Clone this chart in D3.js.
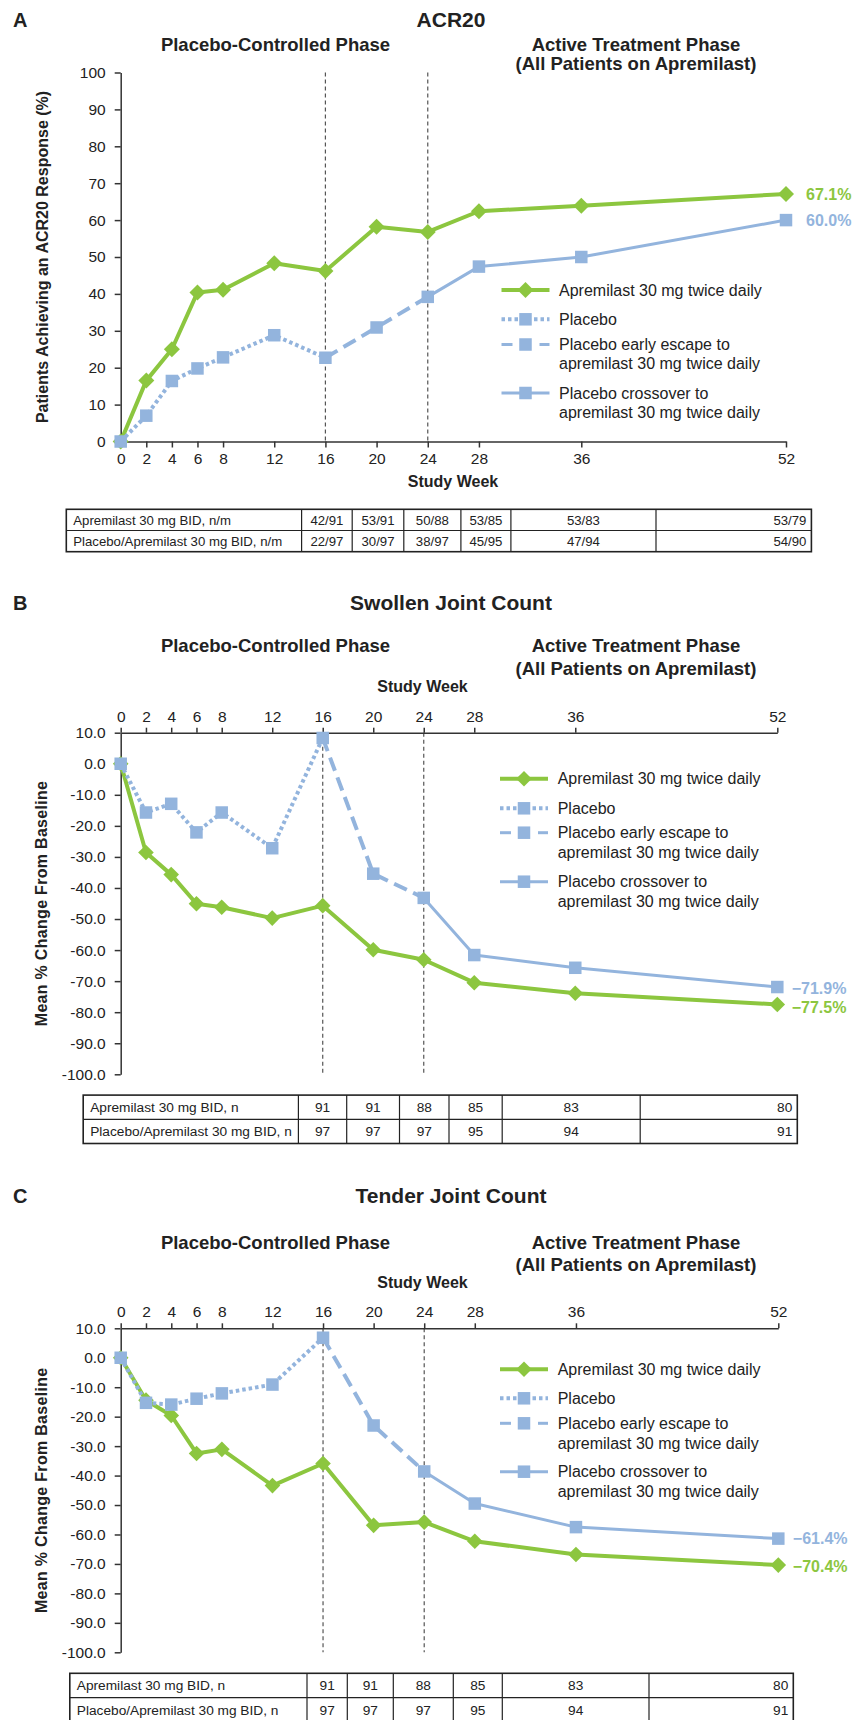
<!DOCTYPE html>
<html><head><meta charset="utf-8">
<script src="https://cdn.jsdelivr.net/npm/d3@7"></script>
<style>
body{margin:0;background:#fff}
svg{display:block}
text{font-family:"Liberation Sans",Arial,Helvetica,sans-serif;fill:#222}
</style>
</head><body>
<svg id="chart" width="852" height="1720"></svg>
<script>
// ---------------- DATA ----------------
const weeks = [0, 2, 4, 6, 8, 12, 16, 20, 24, 28, 36, 52];
const placeboWeeks = [0, 2, 4, 6, 8, 12, 16];
const escapeWeeks = [16, 20, 24];
const crossoverWeeks = [24, 28, 36, 52];
const tableWeeks = [16, 20, 24, 28, 36, 52];

// A: ACR20 (% of patients)
const acrApremilast = [0, 16.5, 25.0, 40.4, 41.1, 48.3, 46.2, 58.2, 56.8, 62.4, 63.9, 67.1];
const acrPlacebo = [0, 7.0, 16.4, 19.8, 22.8, 28.8, 22.7];
const acrEscape = [22.7, 30.9, 39.2];
const acrCrossover = [39.2, 47.4, 50.0, 60.0];
const acrTableApremilast = ["42/91", "53/91", "50/88", "53/85", "53/83", "53/79"];
const acrTablePlacebo = ["22/97", "30/97", "38/97", "45/95", "47/94", "54/90"];
const acrTableLabels = ["Apremilast 30 mg BID, n/m", "Placebo/Apremilast 30 mg BID, n/m"];
const acrTicks = [0, 10, 20, 30, 40, 50, 60, 70, 80, 90, 100];
const acrEndLabels = ["67.1%", "60.0%"];

// B: Swollen joint count (mean % change)
const sjcApremilast = [0, -28.6, -35.7, -45.1, -46.2, -49.7, -45.7, -59.9, -63.1, -70.5, -73.9, -77.5];
const sjcPlacebo = [0, -15.7, -12.9, -22.1, -15.7, -27.2, 8.3];
const sjcEscape = [8.3, -35.4, -43.2];
const sjcCrossover = [-43.2, -61.6, -65.7, -71.9];
const sjcTableApremilast = ["91", "91", "88", "85", "83", "80"];
const sjcTablePlacebo = ["97", "97", "97", "95", "94", "91"];
const sjcEndLabels = ["\u221277.5%", "\u221271.9%"];

// C: Tender joint count (mean % change)
const tjcApremilast = [0, -14.4, -19.6, -32.5, -31.1, -43.4, -35.9, -56.9, -55.8, -62.3, -66.8, -70.4];
const tjcPlacebo = [0, -15.3, -15.9, -13.9, -12.1, -9.1, 6.8];
const tjcEscape = [6.8, -23.0, -38.6];
const tjcCrossover = [-38.6, -49.5, -57.5, -61.4];
const tjcTableApremilast = ["91", "91", "88", "85", "83", "80"];
const tjcTablePlacebo = ["97", "97", "97", "95", "94", "91"];
const tjcEndLabels = ["\u221270.4%", "\u221261.4%"];

const jointTableLabels = ["Apremilast 30 mg BID, n", "Placebo/Apremilast 30 mg BID, n"];
const jointTicks = [10, 0, -10, -20, -30, -40, -50, -60, -70, -80, -90, -100];

const legendLabels = [
  ["Apremilast 30 mg twice daily"],
  ["Placebo"],
  ["Placebo early escape to", "apremilast 30 mg twice daily"],
  ["Placebo crossover to", "apremilast 30 mg twice daily"]
];
const phaseLabels = ["Placebo-Controlled Phase", "Active Treatment Phase", "(All Patients on Apremilast)"];

// ---------------- STYLE ----------------
const GREEN = "#8CC63F";
const BLUE = "#93B4DD";
const AXIS = "#333";
const FONT = '"Liberation Sans",Arial,Helvetica,sans-serif';

const svg = d3.select("#chart");
svg.append("rect").attr("width", 852).attr("height", 1720).attr("fill", "#fff");

function diamondPath(r) { return `M0,${-r}L${r},0L0,${r}L${-r},0Z`; }

function drawPanel(p) {
  const g = svg.append("g");
  const x = d3.scaleLinear().domain([0, 52]).range([p.x0, p.x52]);
  const y = d3.scaleLinear().domain(p.yDomain).range([p.yBottom, p.yTop]);

  // Letter + title
  g.append("text").attr("x", p.letterX).attr("y", p.titleY).attr("dy", "0.35em")
    .attr("font-size", 20).attr("font-weight", "bold").text(p.letter);
  g.append("text").attr("x", 451).attr("y", p.titleY).attr("dy", "0.35em")
    .attr("text-anchor", "middle").attr("font-size", 21).attr("font-weight", "bold").text(p.title);

  // Phase headers
  g.append("text").attr("x", 275.5).attr("y", p.head1Y).attr("dy", "0.35em")
    .attr("text-anchor", "middle").attr("font-size", 18.5).attr("font-weight", "bold").text(phaseLabels[0]);
  g.append("text").attr("x", 636).attr("y", p.head1Y).attr("dy", "0.35em")
    .attr("text-anchor", "middle").attr("font-size", 18.5).attr("font-weight", "bold").text(phaseLabels[1]);
  g.append("text").attr("x", 636).attr("y", p.head2Y).attr("dy", "0.35em")
    .attr("text-anchor", "middle").attr("font-size", 18.5).attr("font-weight", "bold").text(phaseLabels[2]);

  // Study week label
  g.append("text").attr("x", p.swX).attr("y", p.swY).attr("dy", "0.35em")
    .attr("text-anchor", "middle").attr("font-size", 16).attr("font-weight", "bold").text("Study Week");

  // Y title
  const yc = (p.yTop + p.yBottom) / 2;
  g.append("text").attr("transform", `translate(${p.yTitleX},${yc}) rotate(-90)`).attr("dy", "0.35em")
    .attr("text-anchor", "middle").attr("font-size", 16).attr("font-weight", "bold")
    .attr("letter-spacing", p.yTitleLs).text(p.yTitle);

  // Phase dividers
  [16, 24].forEach(w => {
    g.append("line").attr("x1", x(w)).attr("x2", x(w))
      .attr("y1", y(p.yDomain[1])).attr("y2", y(p.yDomain[0]))
      .attr("stroke", "#555").attr("stroke-width", 1.2).attr("stroke-dasharray", "4,3");
  });

  // Axes
  const yAxis = d3.axisLeft(y).tickValues(p.yTicks).tickSize(6).tickPadding(9).tickSizeOuter(0)
    .tickFormat(p.yFormat);
  const ga = g.append("g").attr("transform", `translate(${p.x0},0)`).call(yAxis);
  let gx;
  if (p.xTop) {
    gx = g.append("g").attr("transform", `translate(0,${y(p.yDomain[1])})`)
      .call(d3.axisTop(x).tickValues(weeks).tickSize(5).tickPadding(6).tickSizeOuter(0));
  } else {
    gx = g.append("g").attr("transform", `translate(0,${y(p.yDomain[0])})`)
      .call(d3.axisBottom(x).tickValues(weeks).tickSize(6).tickPadding(5).tickSizeOuter(0));
  }
  [ga, gx].forEach(a => {
    a.select(".domain").attr("stroke", AXIS).attr("stroke-width", 1.5);
    a.selectAll(".tick line").attr("stroke", AXIS).attr("stroke-width", 1.5);
    a.selectAll(".tick text").attr("font-size", 15.5).attr("font-family", FONT).attr("fill", "#222");
  });

  // Series
  const line = d3.line().x(d => x(d[0])).y(d => y(d[1]));
  const zip = (ws, vs) => ws.map((w, i) => [w, vs[i]]);
  const apr = zip(weeks, p.apremilast);
  const pla = zip(placeboWeeks, p.placebo);
  const esc = zip(escapeWeeks, p.escape);
  const crs = zip(crossoverWeeks, p.crossover);

  g.append("path").attr("d", line(apr)).attr("fill", "none").attr("stroke", GREEN)
    .attr("stroke-width", 4).attr("stroke-linejoin", "round");
  g.append("path").attr("d", line(pla)).attr("fill", "none").attr("stroke", BLUE)
    .attr("stroke-width", 4).attr("stroke-dasharray", "3.5,3");
  g.append("path").attr("d", line(esc)).attr("fill", "none").attr("stroke", BLUE)
    .attr("stroke-width", 4).attr("stroke-dasharray", "14,7");
  g.append("path").attr("d", line(crs)).attr("fill", "none").attr("stroke", BLUE)
    .attr("stroke-width", 3).attr("stroke-linejoin", "round");

  g.selectAll(".dm").data(apr).join("path").attr("class", "dm")
    .attr("transform", d => `translate(${x(d[0])},${y(d[1])})`)
    .attr("d", diamondPath(p.dr)).attr("fill", GREEN);
  const sq = [...pla, ...esc.slice(1), ...crs.slice(1)];
  const s = p.sq;
  g.selectAll(".sq").data(sq).join("rect").attr("class", "sq")
    .attr("x", d => x(d[0]) - s / 2).attr("y", d => y(d[1]) - s / 2)
    .attr("width", s).attr("height", s).attr("fill", BLUE);

  // End labels
  const lastA = apr[apr.length - 1], lastC = crs[crs.length - 1];
  g.append("text").attr("x", x(52) + p.endDx).attr("y", y(lastA[1]) + p.endDyG).attr("dy", "0.35em")
    .attr("font-size", 16).attr("font-weight", "bold").style("fill", GREEN).text(p.endLabels[0]);
  g.append("text").attr("x", x(52) + p.endDx).attr("y", y(lastC[1]) + p.endDyB).attr("dy", "0.35em")
    .attr("font-size", 16).attr("font-weight", "bold").style("fill", BLUE).text(p.endLabels[1]);

  // Legend
  const L = p.legend;
  const lx0 = L.x0, lx1 = L.x0 + 48, lm = L.x0 + 24;
  legendLabels.forEach((lines, i) => {
    const ly = L.rows[i];
    if (i === 0) {
      g.append("line").attr("x1", lx0).attr("x2", lx1).attr("y1", ly).attr("y2", ly)
        .attr("stroke", GREEN).attr("stroke-width", 4);
      g.append("path").attr("transform", `translate(${lm},${ly})`).attr("d", diamondPath(p.dr)).attr("fill", GREEN);
    } else {
      if (i === 1) {
        g.append("line").attr("x1", lx0).attr("x2", lx1).attr("y1", ly).attr("y2", ly)
          .attr("stroke", BLUE).attr("stroke-width", 4).attr("stroke-dasharray", "3.5,3");
      } else if (i === 2) {
        g.append("line").attr("x1", lx0).attr("x2", lx0 + 11).attr("y1", ly).attr("y2", ly)
          .attr("stroke", BLUE).attr("stroke-width", 3);
        g.append("line").attr("x1", lx1 - 10).attr("x2", lx1).attr("y1", ly).attr("y2", ly)
          .attr("stroke", BLUE).attr("stroke-width", 3);
      } else {
        g.append("line").attr("x1", lx0).attr("x2", lx1).attr("y1", ly).attr("y2", ly)
          .attr("stroke", BLUE).attr("stroke-width", 3);
      }
      g.append("rect").attr("x", lm - s / 2).attr("y", ly - s / 2).attr("width", s).attr("height", s).attr("fill", BLUE);
    }
    lines.forEach((t, j) => {
      g.append("text").attr("x", L.tx).attr("y", ly + j * L.lineH).attr("dy", "0.35em")
        .attr("font-size", 16).text(t);
    });
  });

  // Table
  const T = p.table;
  const tg = g.append("g");
  const bottom = T.top + 2 * T.rowH;
  const cells = [T.left, ...T.bounds, T.right];
  T.bounds.forEach(b => tg.append("line").attr("x1", b).attr("x2", b).attr("y1", T.top).attr("y2", bottom)
    .attr("stroke", "#222").attr("stroke-width", 1.2));
  tg.append("line").attr("x1", T.left).attr("x2", T.right).attr("y1", T.top + T.rowH).attr("y2", T.top + T.rowH)
    .attr("stroke", "#222").attr("stroke-width", 1.2);
  tg.append("rect").attr("x", T.left).attr("y", T.top).attr("width", T.right - T.left).attr("height", bottom - T.top)
    .attr("fill", "none").attr("stroke", "#222").attr("stroke-width", 1.6);
  [p.tableA, p.tableP].forEach((row, r) => {
    const cy = T.top + T.rowH * (r + 0.5);
    tg.append("text").attr("x", T.left + 7).attr("y", cy).attr("dy", "0.35em")
      .attr("font-size", T.fs).text(p.tableLabels[r]);
    row.forEach((v, c) => {
      const last = c === row.length - 1;
      const cx = last ? cells[c + 2] - 5 : (cells[c + 1] + cells[c + 2]) / 2;
      tg.append("text").attr("x", cx).attr("y", cy).attr("dy", "0.35em")
        .attr("text-anchor", last ? "end" : "middle").attr("font-size", T.fs).text(v);
    });
  });
}

const fmt1 = d => d.toFixed(1);

drawPanel({
  letter: "A", title: "ACR20", letterX: 13, titleY: 20, head1Y: 45, head2Y: 63.5,
  swX: 453, swY: 481,
  x0: 120.7, x52: 786, yDomain: [0, 100], yTop: 72.5, yBottom: 441.5, xTop: false,
  yTicks: acrTicks, yFormat: d => String(d), yTitleX: 42.7, yTitleLs: 0,
  yTitle: "Patients Achieving an ACR20 Response (%)",
  apremilast: acrApremilast, placebo: acrPlacebo, escape: acrEscape, crossover: acrCrossover,
  dr: 8, sq: 12.5, endDx: 20, endDyG: 0, endDyB: 0, endLabels: acrEndLabels,
  legend: { x0: 501.5, tx: 559, rows: [290, 319.3, 344.5, 393], lineH: 19.3 },
  table: { left: 66.3, bounds: [301.6, 352.2, 403.8, 460.9, 510.9, 656], right: 811.4, top: 509.3, rowH: 21.2, fs: 13.2 },
  tableA: acrTableApremilast, tableP: acrTablePlacebo, tableLabels: acrTableLabels
});

drawPanel({
  letter: "B", title: "Swollen Joint Count", letterX: 13, titleY: 602.5, head1Y: 646, head2Y: 669,
  swX: 422.5, swY: 686,
  x0: 120.7, x52: 777.3, yDomain: [-100, 10], yTop: 732.7, yBottom: 1074.3, xTop: true,
  yTicks: jointTicks, yFormat: fmt1, yTitleX: 41.7, yTitleLs: 0.3,
  yTitle: "Mean % Change From Baseline",
  apremilast: sjcApremilast, placebo: sjcPlacebo, escape: sjcEscape, crossover: sjcCrossover,
  dr: 7.8, sq: 12.5, endDx: 14.4, endDyG: 3, endDyB: 1, endLabels: sjcEndLabels,
  legend: { x0: 500, tx: 557.7, rows: [778.7, 808.3, 832.7, 881.7], lineH: 19.5 },
  table: { left: 83.2, bounds: [298.4, 346.7, 399.5, 449, 502.2, 640.2], right: 797.3, top: 1095.1, rowH: 24.2, fs: 13.7 },
  tableA: sjcTableApremilast, tableP: sjcTablePlacebo, tableLabels: jointTableLabels
});

drawPanel({
  letter: "C", title: "Tender Joint Count", letterX: 13, titleY: 1195.7, head1Y: 1242.7, head2Y: 1265,
  swX: 422.5, swY: 1282.3,
  x0: 120.7, x52: 778.3, yDomain: [-100, 10], yTop: 1328.3, yBottom: 1652.3, xTop: true,
  yTicks: jointTicks, yFormat: fmt1, yTitleX: 41.7, yTitleLs: 0.3,
  yTitle: "Mean % Change From Baseline",
  apremilast: tjcApremilast, placebo: tjcPlacebo, escape: tjcEscape, crossover: tjcCrossover,
  dr: 7.8, sq: 12.5, endDx: 14.5, endDyG: 1, endDyB: 0, endLabels: tjcEndLabels,
  legend: { x0: 500, tx: 557.7, rows: [1369.3, 1398.3, 1423.3, 1471.7], lineH: 19.7 },
  table: { left: 69.8, bounds: [307, 347.3, 393.3, 453.3, 502.3, 649], right: 793.3, top: 1673.3, rowH: 24.4, fs: 13.7 },
  tableA: tjcTableApremilast, tableP: tjcTablePlacebo, tableLabels: jointTableLabels
});
</script>
</body></html>
